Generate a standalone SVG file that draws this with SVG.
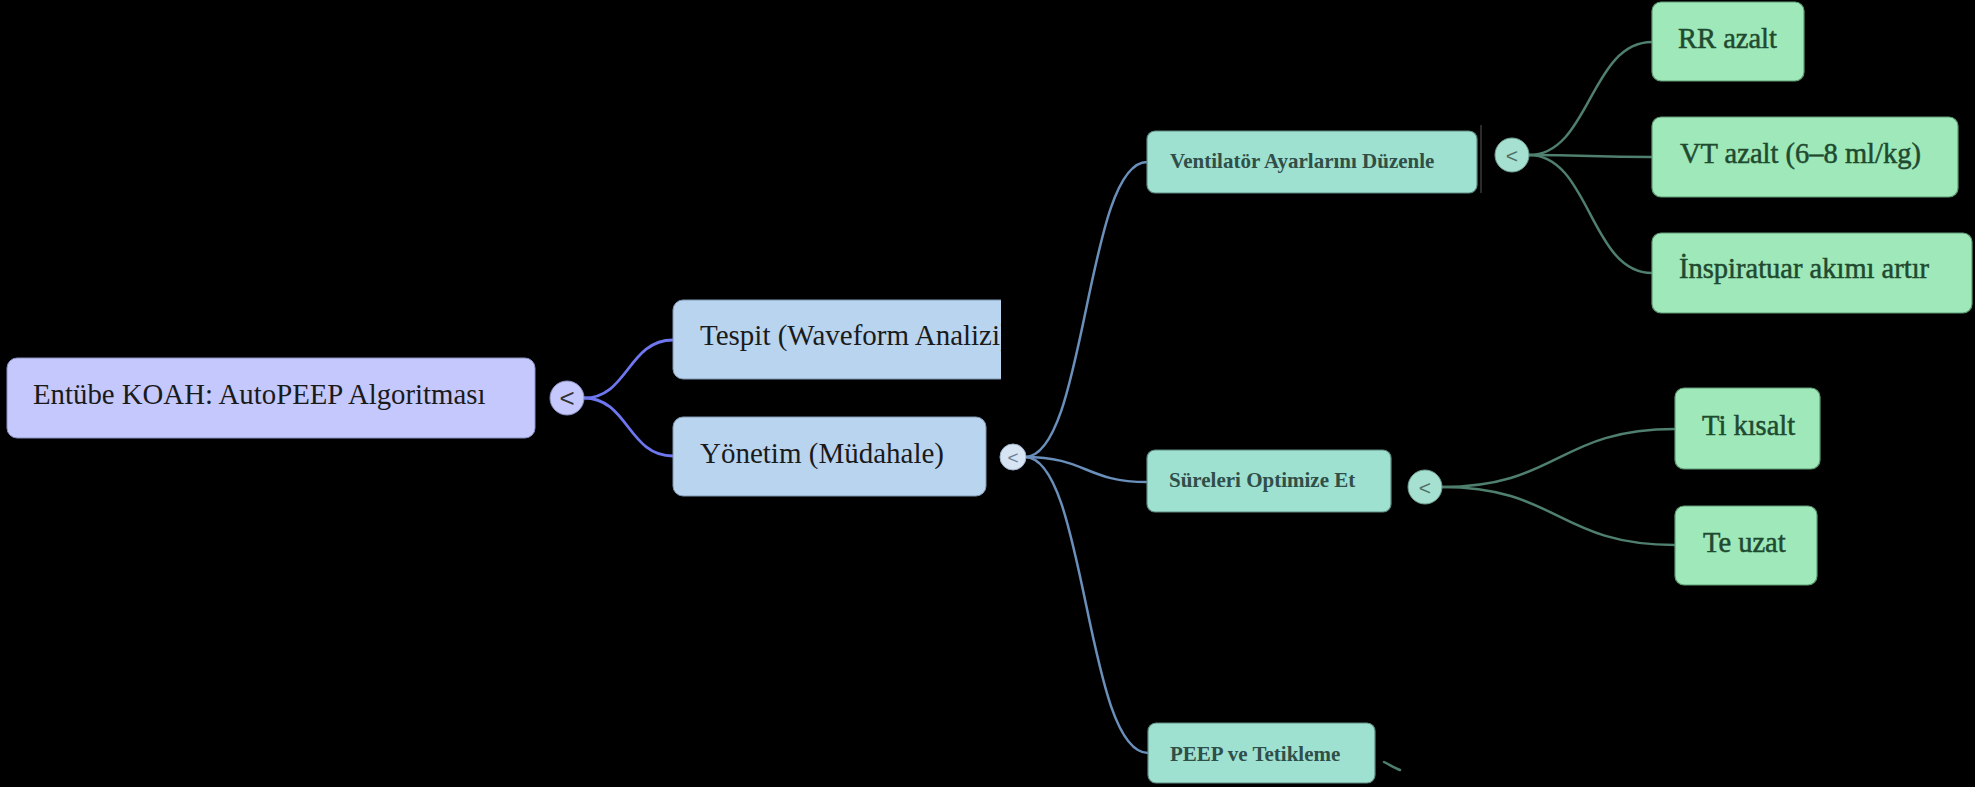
<svg xmlns="http://www.w3.org/2000/svg" width="1975" height="787" viewBox="0 0 1975 787">
  <style>
    .bg { fill: #000000; }
    .t { font-family: "Liberation Serif", "Times New Roman", serif; }
    .root rect { fill: #c4c8fc; stroke: #8a8fc0; stroke-width: 1; }
    .root text { font-size: 28.8px; fill: #1a1a1a; }
    .lvl1 rect { fill: #b9d4ef; stroke: #7f97b0; stroke-width: 1; }
    .lvl1 text { font-size: 29px; fill: #1a1a1a; }
    .lvl2 rect { fill: #9fe1d1; stroke: #5f8a80; stroke-width: 1.2; }
    .lvl2 text { font-size: 21px; font-weight: bold; fill: #2f4f48; }
    .leaf rect { fill: #9ee8b9; stroke: #5f9a74; stroke-width: 1.2; }
    .leaf text { font-size: 28.5px; fill: #1f4a30; stroke: #1f4a30; stroke-width: 0.5; }
    .edge { fill: none; stroke-width: 2.5; stroke-linecap: round; }
    .e-root { stroke: #6e77f0; stroke-width: 2.8; }
    .e-mid { stroke: #6a8fba; }
    .e-leaf { stroke: #4f7f6d; }
    .toggle circle { stroke-width: 1; }
    .toggle text { font-family: "Liberation Sans", Arial, sans-serif; text-anchor: middle; }
  </style>
  <defs>
    <clipPath id="clip-tespit">
      <rect x="0" y="0" width="1001" height="787"/>
    </clipPath>
  </defs>

  <rect class="bg" x="0" y="0" width="1975" height="787"/>

  <!-- connectors -->
  <g id="connectors">
    <path class="edge e-root" d="M584,398 C628,398 628,340 673,340"/>
    <path class="edge e-root" d="M584,398 C628,398 628,456 673,456"/>
    <path class="edge e-mid" d="M1025,457 C1086,457 1086,162 1147,162"/>
    <path class="edge e-mid" d="M1025,457 C1086,457 1086,482 1147,482"/>
    <path class="edge e-mid" d="M1025,457 C1086,457 1086,753 1148,753"/>
    <path class="edge e-leaf" d="M1529,155 C1590,155 1590,42 1652,42"/>
    <path class="edge e-leaf" d="M1529,155 C1590,155 1590,157 1652,157"/>
    <path class="edge e-leaf" d="M1529,155 C1590,155 1590,273 1652,273"/>
    <path class="edge e-leaf" d="M1442,487 C1558,487 1558,429 1675,429"/>
    <path class="edge e-leaf" d="M1442,487 C1558,487 1558,545 1675,545"/>
    <path class="edge e-leaf" d="M1384,762 C1390,765 1395,768 1400,770" stroke-width="2"/>
    <line x1="1481" y1="125" x2="1481" y2="193" stroke="#3a3a3a" stroke-width="1.5"/>
  </g>

  <!-- root -->
  <g id="node-root" class="root t">
    <rect x="7" y="358" width="528" height="80" rx="10"/>
    <text x="33" y="404">Entübe KOAH: AutoPEEP Algoritması</text>
  </g>
  <g id="toggle-root" class="toggle">
    <circle cx="567" cy="398" r="17" fill="#c4c8fc" stroke="#8a8fc0"/>
    <text x="567" y="407" font-size="26" fill="#333333">&lt;</text>
  </g>

  <!-- first level -->
  <g id="node-tespit" class="lvl1 t" clip-path="url(#clip-tespit)">
    <rect x="673" y="300" width="345" height="79" rx="10"/>
    <text x="700" y="345">Tespit (Waveform Analizi)</text>
  </g>
  <g id="node-yonetim" class="lvl1 t">
    <rect x="673" y="417" width="313" height="79" rx="10"/>
    <text x="700" y="463">Yönetim (Müdahale)</text>
  </g>
  <g id="toggle-yonetim" class="toggle">
    <circle cx="1013" cy="457" r="13" fill="#d6e4f4" stroke="#9fb3c9"/>
    <text x="1013" y="464" font-size="19" fill="#6a7f95">&lt;</text>
  </g>

  <!-- second level -->
  <g id="node-ventilator" class="lvl2 t">
    <rect x="1147" y="131" width="330" height="62" rx="8"/>
    <text x="1170" y="168">Ventilatör Ayarlarını Düzenle</text>
  </g>
  <g id="toggle-ventilator" class="toggle">
    <circle cx="1512" cy="155" r="17" fill="#a6e0d1" stroke="#6f9c90"/>
    <text x="1512" y="163" font-size="21" fill="#4f6f66">&lt;</text>
  </g>
  <g id="node-sureler" class="lvl2 t">
    <rect x="1147" y="450" width="244" height="62" rx="8"/>
    <text x="1169" y="487">Süreleri Optimize Et</text>
  </g>
  <g id="toggle-sureler" class="toggle">
    <circle cx="1425" cy="487" r="17" fill="#a6e0d1" stroke="#6f9c90"/>
    <text x="1425" y="495" font-size="21" fill="#4f6f66">&lt;</text>
  </g>
  <g id="node-peep" class="lvl2 t">
    <rect x="1148" y="723" width="227" height="60" rx="8"/>
    <text x="1170" y="761">PEEP ve Tetikleme</text>
  </g>

  <!-- leaves -->
  <g id="node-rr" class="leaf t">
    <rect x="1652" y="2" width="152" height="79" rx="9"/>
    <text x="1678" y="48">RR azalt</text>
  </g>
  <g id="node-vt" class="leaf t">
    <rect x="1652" y="117" width="306" height="80" rx="9"/>
    <text x="1680" y="163">VT azalt (6–8 ml/kg)</text>
  </g>
  <g id="node-insp" class="leaf t">
    <rect x="1652" y="233" width="320" height="80" rx="9"/>
    <text x="1679" y="278">İnspiratuar akımı artır</text>
  </g>
  <g id="node-ti" class="leaf t">
    <rect x="1675" y="388" width="145" height="81" rx="9"/>
    <text x="1702" y="435">Ti kısalt</text>
  </g>
  <g id="node-te" class="leaf t">
    <rect x="1675" y="506" width="142" height="79" rx="9"/>
    <text x="1703" y="552">Te uzat</text>
  </g>
</svg>
